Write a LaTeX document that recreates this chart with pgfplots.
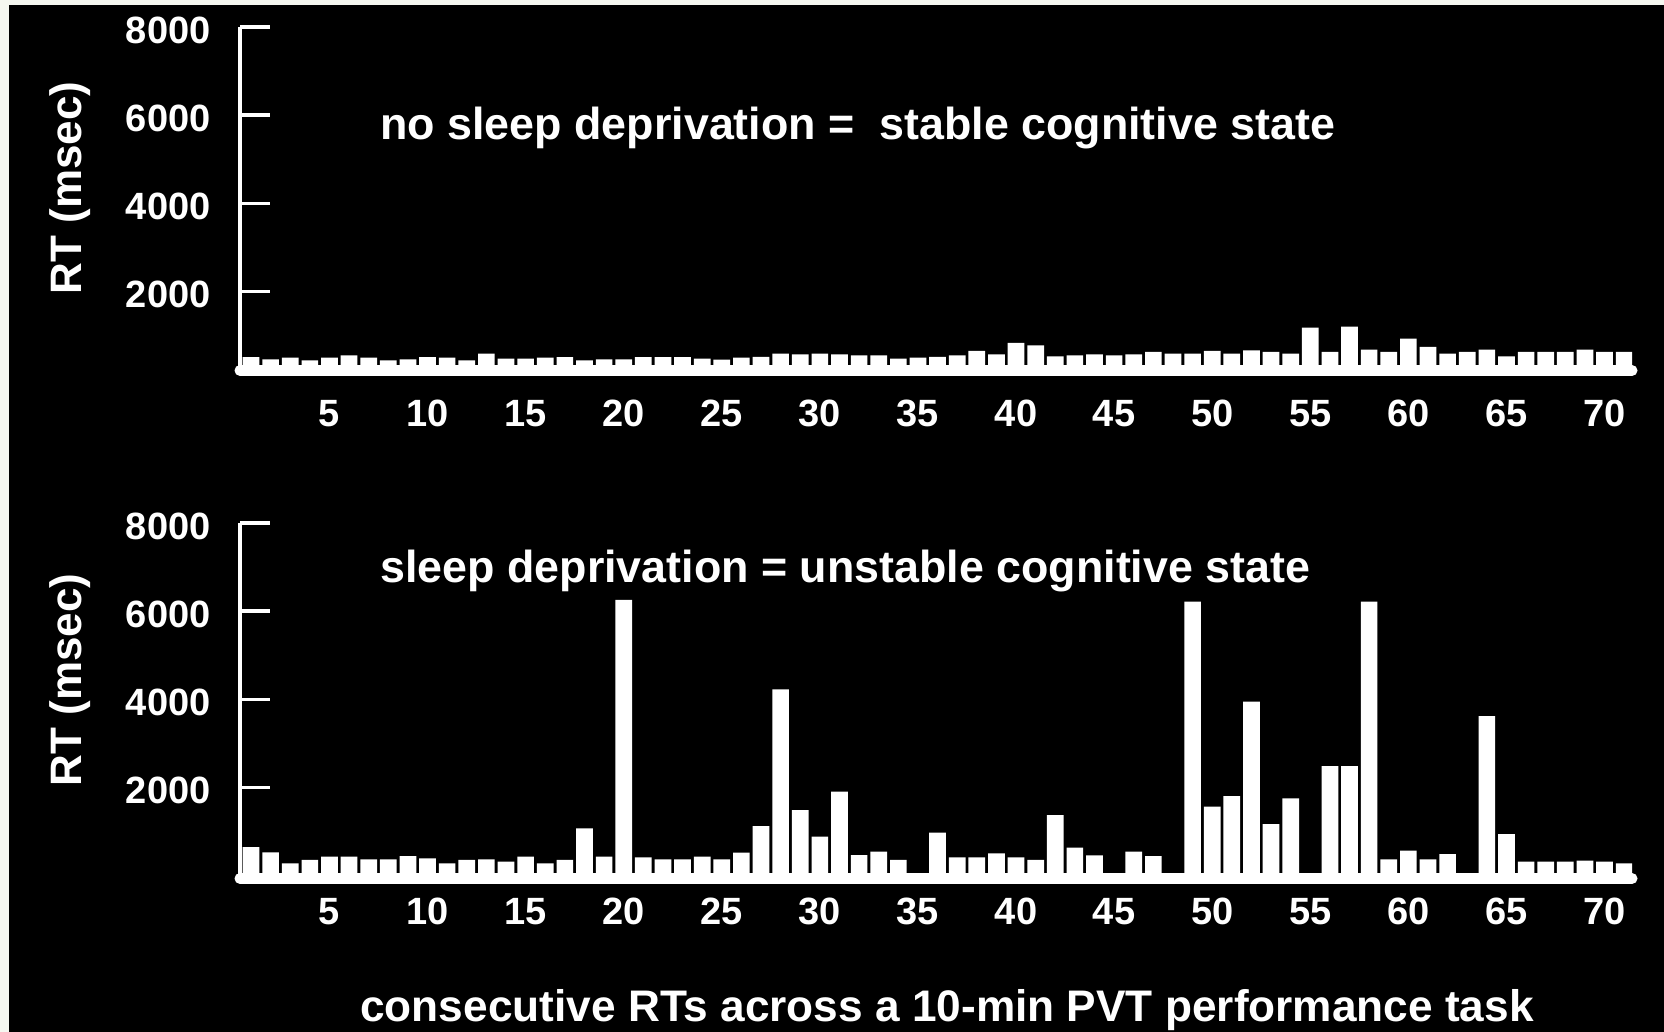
\documentclass[border=0pt]{standalone}
\usepackage{fontspec}
\setmainfont{Liberation Sans}
\usepackage{pgfplots}
\usepackage{pgfplotstable}
\pgfplotsset{compat=1.18}
\definecolor{framecol}{rgb}{0.96,0.97,0.94}

\pgfplotstableread{
x y
1 505
2 450
3 490
4 430
5 490
6 545
7 490
8 430
9 450
10 505
11 490
12 430
13 585
14 470
15 470
16 490
17 505
18 430
19 450
20 450
21 505
22 505
23 505
24 470
25 447
26 493
27 508
28 583
29 568
30 583
31 568
32 545
33 545
34 470
35 493
36 508
37 545
38 644
39 568
40 826
41 773
42 523
43 545
44 568
45 545
46 568
47 621
48 583
49 583
50 644
51 583
52 659
53 621
54 583
55 1174
56 621
57 1197
58 674
59 621
60 924
61 735
62 583
63 621
64 674
65 523
66 621
67 621
68 621
69 674
70 621
71 621
}\toptable

\pgfplotstableread{
x y
1 640
2 525
3 274
4 350
5 425
6 425
7 365
8 365
9 440
10 387
11 274
12 350
13 365
14 312
15 425
16 274
17 350
18 1069
19 425
20 6252
21 410
22 365
23 365
24 425
25 365
26 516
27 1121
28 4224
29 1484
30 879
31 1900
32 463
33 539
34 350
35 0
36 970
37 410
38 410
39 501
40 410
41 350
42 1371
43 629
44 456
45 0
46 539
47 440
48 0
49 6213
50 1560
51 1802
52 3944
53 1167
54 1750
55 0
56 2483
57 2483
58 6213
59 365
60 561
61 365
62 486
63 0
64 3618
65 940
66 312
67 312
68 312
69 334
70 312
71 274
}\bottable

\pgfplotsset{
  panel/.style={
    scale only axis,
    width=696pt,
    xmin=0.44, xmax=71.4, ymax=8000,
    axis lines*=left,
    axis line style={white, line width=2.2pt},
    x axis line style={line width=5.5pt, line cap=round},
    ytick align=inside,
    major tick length=15pt,
    tick style={white, line width=1.6pt},
    ytick={2000,4000,6000,8000},
    yticklabels={2000,4000,6000,8000},
    xtick=\empty,
    extra x ticks={5,10,15,20,25,30,35,40,45,50,55,60,65,70},
    extra x tick labels={5,10,15,20,25,30,35,40,45,50,55,60,65,70},
    /pgf/number format/assume math mode=true,
    ticklabel style={font=\bfseries\fontsize{19}{19}\selectfont, text=white},
    yticklabel style={xshift=-11.2pt, yshift=-1.5pt},
    ybar, bar width=0.85,
  }
}

\begin{document}
\begin{tikzpicture}
\useasboundingbox (0pt,0pt) rectangle (832pt,516pt);
\fill[framecol] (0pt,0pt) rectangle (832pt,516pt);
\fill[black] (4.5pt,0pt) rectangle (832pt,513.5pt);

\begin{axis}[panel, at={(120pt,330.75pt)}, anchor=south west,
  height=171.75pt, ymin=200,
  extra x tick style={major tick length=0pt, xticklabel style={yshift=-11.4pt}}]
  \addplot[fill=white, draw=none] table[x=x, y=y] {\toptable};
\end{axis}

\begin{axis}[panel, at={(120pt,76.75pt)}, anchor=south west,
  height=177.75pt, ymin=-70,
  extra x tick style={major tick length=0pt, xticklabel style={yshift=-6.4pt}}]
  \addplot[fill=white, draw=none] table[x=x, y=y] {\bottable};
\end{axis}

\node[rotate=90, text=white, font=\bfseries\fontsize{22}{22}\selectfont] at (35pt,422pt) {RT (msec)};
\node[rotate=90, text=white, font=\bfseries\fontsize{22}{22}\selectfont] at (35pt,176pt) {RT (msec)};

\node[anchor=base west, inner sep=0pt, text=white, font=\bfseries\fontsize{22.4}{22.4}\selectfont] at (190pt,446pt) {no sleep deprivation =\ \ stable cognitive state};
\node[anchor=base west, inner sep=0pt, text=white, font=\bfseries\fontsize{22.4}{22.4}\selectfont] at (190pt,224.5pt) {sleep deprivation = unstable cognitive state};
\node[anchor=base west, inner sep=0pt, text=white, font=\bfseries\fontsize{22.1}{22.1}\selectfont] at (180pt,5.2pt) {consecutive RTs across a 10-min PVT performance task};
\end{tikzpicture}
\end{document}
